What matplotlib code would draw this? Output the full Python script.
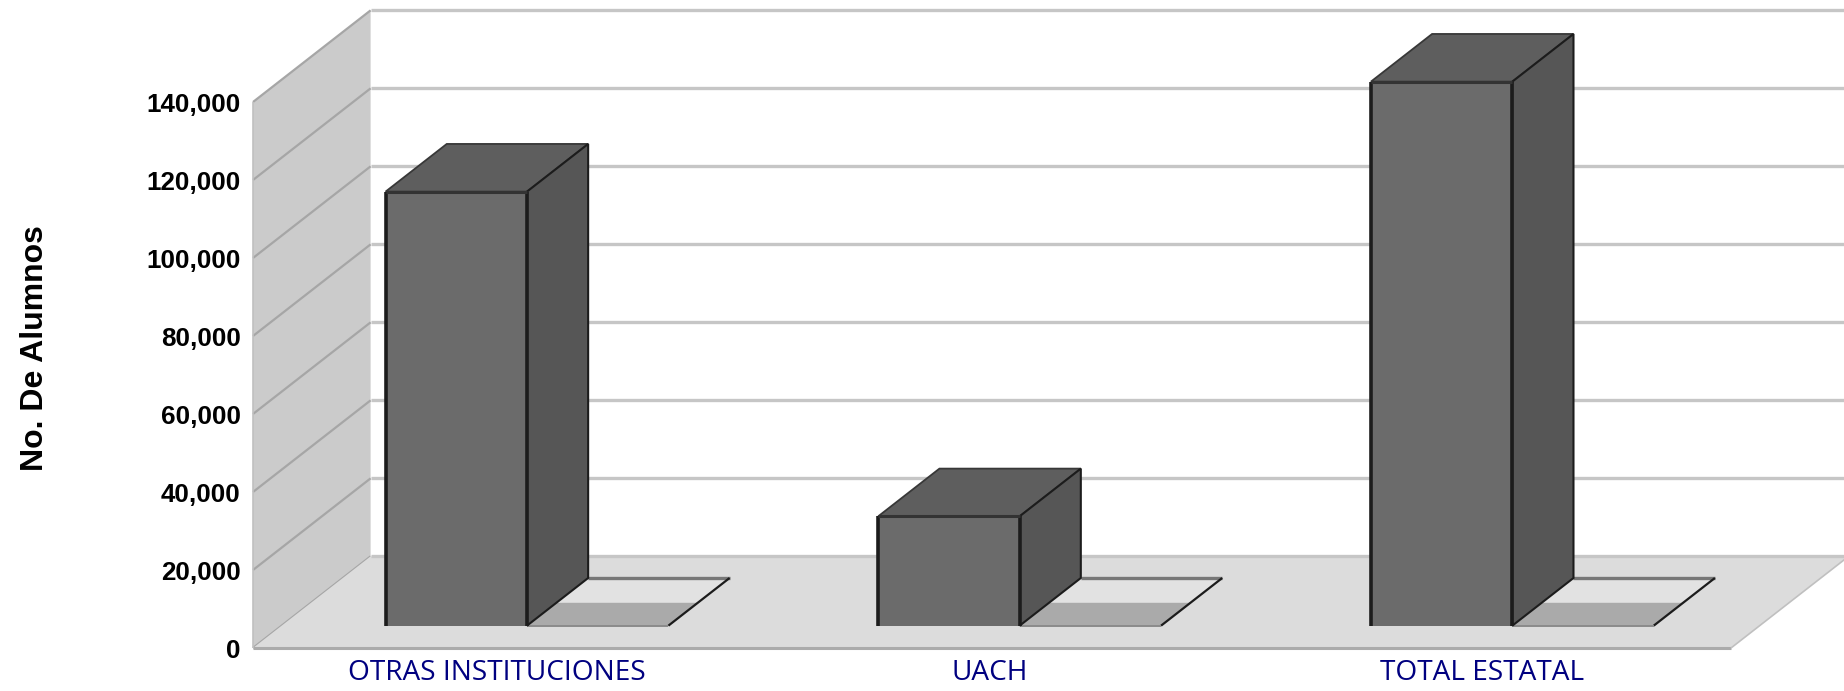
import matplotlib
matplotlib.use("Agg")
import matplotlib.pyplot as plt
from matplotlib.patches import Polygon
import numpy as np

plt.rcParams['font.family'] = ['Liberation Sans', 'DejaVu Sans']

categorias = ['OTRAS INSTITUCIONES', 'UACH', 'TOTAL ESTATAL']
alumnos = [111300, 28050, 139500]
ticks_y = [0, 20000, 40000, 60000, 80000, 100000, 120000, 140000]

# 3d look: how far one unit of depth moves things in data units
DX = 0.2387
DY = 23500
D0 = 0.2436   # depth of bar front
BAR_D = 0.52
BAR_W = 0.287
BAR_OFF = 0.211

W, H = 1844, 691
fig = plt.figure(figsize=(W / 100, H / 100), dpi=100)
ax = fig.add_axes([253 / W, 1 - 648 / H, 1478 / W, 546 / H])
ax.set_xlim(0, 3)
ax.set_ylim(0, 140000)
ax.patch.set_visible(False)
for s in ax.spines.values():
    s.set_visible(False)


def p(x, y, d):
    return (x + d * DX, y + d * DY)


def poly(pts, z, fc, ec='none', lw=0):
    ax.add_patch(Polygon(pts, closed=True, fc=fc, ec=ec, lw=lw, zorder=z, clip_on=False))


def line(a, b, z, color, lw):
    ax.plot([a[0], b[0]], [a[1], b[1]], color=color, lw=lw, zorder=z, clip_on=False,
            solid_capstyle='butt')


# walls and floor
xr = 3.4
top = ticks_y[-1]
poly([p(0, 0, 0), p(0, top, 0), p(0, top, 1), p(0, 0, 1)], 1, '#cbcbcb')
poly([p(0, 0, 0), p(3, 0, 0), p(3, 0, 1), p(0, 0, 1)], 2, '#dcdcdc')
for v in ticks_y:
    line(p(0, v, 1), p(xr, v, 1), 2.2, '#c6c6c6', 2.4)
    line(p(0, v, 0), p(0, v, 1), 1.5, '#a6a6a6', 1.6)
line(p(0, 0, 0), p(3, 0, 0), 2.5, '#ababab', 2.2)
line(p(3, 0, 0), p(3, 0, 1), 2.5, '#c0c0c0', 1.2)
line(p(0, 0, 0), p(0, top, 0), 2.5, '#c0c0c0', 1.2)

# bars
for i, v in enumerate(alumnos):
    x0 = i + BAR_OFF
    x1 = x0 + BAR_W
    x2 = x1 + BAR_W
    d1 = D0 + BAR_D
    dm = D0 + BAR_D * 0.48

    # shadow on the floor
    poly([p(x1, 0, D0), p(x2, 0, D0), p(x2, 0, d1), p(x1, 0, d1)], 3, '#e2e2e2')
    poly([p(x1, 0, D0), p(x2, 0, D0), p(x2, 0, dm), p(x1, 0, dm)], 3.1, '#aaaaaa')
    line(p(x1, 0, d1), p(x2, 0, d1), 3.2, '#777777', 2.4)
    line(p(x2, 0, D0), p(x2, 0, d1), 3.2, '#1c1c1c', 1.6)
    line(p(x1, 0, D0), p(x2, 0, D0), 3.2, '#8a8a8a', 1.4)

    # top and side faces
    poly([p(x0, v, D0), p(x1, v, D0), p(x1, v, d1), p(x0, v, d1)], 4, '#5e5e5e', '#383838', 1.3)
    poly([p(x1, 0, D0), p(x1, v, D0), p(x1, v, d1), p(x1, 0, d1)], 4, '#565656', '#1c1c1c', 1.5)

    # front face
    sx, sy = p(x0, 0, D0)
    ax.bar(sx, v, width=BAR_W, bottom=sy, align='edge', color='#6b6b6b', zorder=5,
           clip_on=False, edgecolor='none')
    line(p(x0, 0, D0), p(x0, v, D0), 6, '#1c1c1c', 2.6)
    line(p(x1, 0, D0), p(x1, v, D0), 6, '#1c1c1c', 2.6)
    line(p(x0, v, D0), p(x1, v, D0), 6, '#333333', 2.2)

ax.set_xticks(np.arange(len(categorias)) + 0.495)
ax.set_xticklabels(categorias, color='#000080', fontsize=20.2, fontfamily='Open Sans')
ax.tick_params(axis='x', length=0, pad=8)
ax.set_yticks(ticks_y)
ax.set_yticklabels([f'{v:,}' for v in ticks_y], fontweight='bold', fontsize=18.7)
ax.tick_params(axis='y', length=0, pad=9)
fig.text(35 / W, 1 - 348 / H, 'No. De Alumnos', rotation=90, fontweight='bold', fontsize=23,
         ha='center', va='center')

fig.savefig('out.png', dpi=100)
